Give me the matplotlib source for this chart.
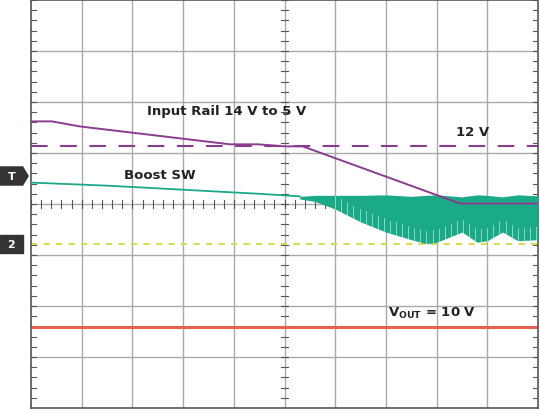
import matplotlib.pyplot as plt
import numpy as np
from matplotlib.patches import Polygon

# divisions: x 0..10, y 0..8
rail_x = [0, 0.41, 0.97, 3.93, 4.48, 5.01, 5.36, 8.46, 10]
rail_y = [5.62, 5.62, 5.52, 5.17, 5.17, 5.13, 5.13, 4.01, 4.01]
sw_x = [0, 1.5, 3.0, 4.5, 5.3]
sw_y = [4.42, 4.36, 4.28, 4.20, 4.15]
env_x = [5.3, 5.6, 6.0, 6.5, 7.0, 7.5, 7.8, 8.0, 8.5, 8.8, 9.0, 9.3, 9.6, 10]
env_top = [4.15, 4.17, 4.17, 4.17, 4.18, 4.15, 4.17, 4.18, 4.14, 4.18, 4.17, 4.14, 4.18, 4.16]
env_bot = [4.10, 4.05, 3.90, 3.65, 3.45, 3.30, 3.22, 3.25, 3.45, 3.25, 3.28, 3.45, 3.28, 3.30]
level_12v = 5.13
level_ch2 = 3.22
level_vout = 1.59

fig = plt.figure(figsize=(5.4, 4.1), dpi=100)
ax = fig.add_axes([31/540, 1/410, 507/540, 408/410])
ax.set_xlim(0, 10)
ax.set_ylim(0, 8)
ax.set_xticks([]); ax.set_yticks([])
for s in ax.spines.values():
    s.set_color('#555555'); s.set_linewidth(1.2)

for i in range(1, 10):
    ax.axvline(i, color='#aaaaaa', lw=1, zorder=1)
for j in range(1, 8):
    ax.axhline(j, color='#aaaaaa', lw=1, zorder=1)
# minor ticks on centre lines and edges
for t in np.arange(0, 10.01, 0.2):
    ax.plot([t, t], [3.93, 4.07], color='#555555', lw=0.8, zorder=1)
for t in np.arange(0, 8.01, 0.2):
    ax.plot([4.93, 5.07], [t, t], color='#555555', lw=0.8, zorder=1)
    ax.plot([0, 0.1], [t, t], color='#555555', lw=0.8, zorder=1)
    ax.plot([9.9, 10], [t, t], color='#555555', lw=0.8, zorder=1)

ax.axhline(level_12v, color='#8a3d8f', lw=1.5, ls=(0, (8, 6)), zorder=2)
ax.axhline(level_ch2, color='#d8dc50', lw=1.5, ls=(0, (3, 3)), zorder=2)
ax.axhline(level_vout, color='#e8604c', lw=2.2, zorder=2)

ax.plot(sw_x, sw_y, color='#1aaa88', lw=1.3, zorder=3)
ax.fill_between(env_x, env_bot, env_top, color='#1aaa88', lw=0, zorder=3)
for t in np.arange(6.0, 10, 0.12):
    ax.plot([t, t], [np.interp(t, env_x, env_bot), np.interp(t, env_x, env_bot) + 0.25],
            color='white', lw=0.5, alpha=0.7, zorder=3)
ax.plot(rail_x, rail_y, color='#8a3d8f', lw=1.4, zorder=4)

kw = dict(fontsize=9.5, fontweight='bold', color='#222222', ha='center', va='center')
ax.text(3.85, 5.84, 'Input Rail 14 V to 5 V', **kw)
ax.text(8.7, 5.42, '12 V', **kw)
ax.text(2.55, 4.58, 'Boost SW', **kw)
ax.text(7.9, 1.88, r'V$_{\mathregular{OUT}}$ = 10 V', **kw)

for py, lab in [(177, 'T'), (245, '2')]:
    y = 1 - py/410
    fig.patches.append(Polygon([[0, y-0.022], [0.042, y-0.022], [0.052, y], [0.042, y+0.022], [0, y+0.022]] if lab == 'T'
                               else [[0, y-0.022], [0.042, y-0.022], [0.042, y+0.022], [0, y+0.022]],
                               closed=True, transform=fig.transFigure, color='#333333'))
    fig.text(0.021, y, lab, color='white', fontsize=8, fontweight='bold', ha='center', va='center')

fig.savefig('out.png')
